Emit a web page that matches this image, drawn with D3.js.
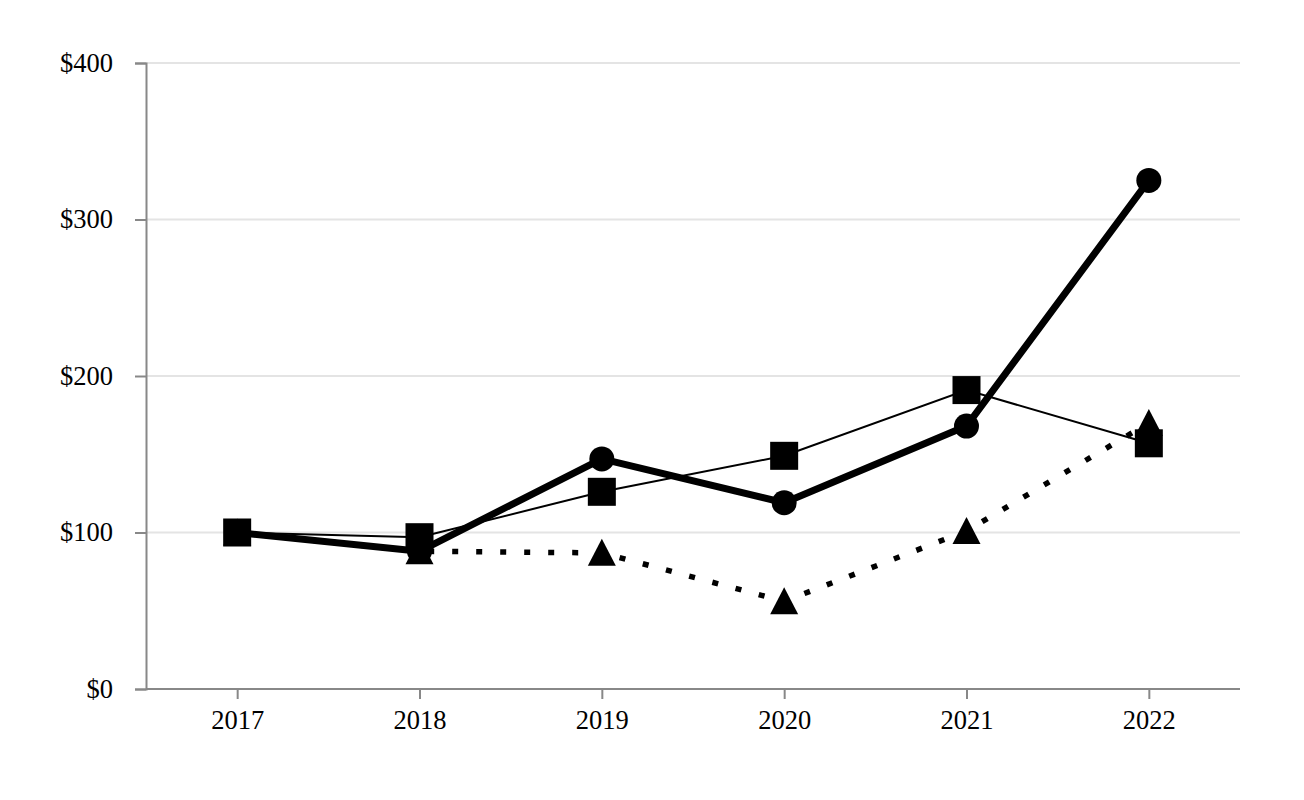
<!DOCTYPE html>
<html>
<head>
<meta charset="utf-8">
<script src="https://cdn.jsdelivr.net/npm/d3@7"></script>
<style>
  html, body { margin: 0; padding: 0; background: #fff; }
  svg text { font-family: "Liberation Serif", "Times New Roman", serif; }
</style>
</head>
<body>
<svg id="chart" width="1304" height="800"></svg>
<script>
const years = ["2017", "2018", "2019", "2020", "2021", "2022"];
const circleSeries = [100, 88, 147, 119, 168, 325];
const squareSeries = [100, 97, 126, 149, 191, 157];
const triangleSeries = [100, 88, 87, 56, 101, 170];
const yTicks = [0, 100, 200, 300, 400];

const svg = d3.select("#chart");
const margin = { left: 146, right: 64, top: 63, bottom: 111 };
const W = 1304, H = 800;

const x = d3.scalePoint().domain(years).range([margin.left, W - margin.right]).padding(0.5);
const y = d3.scaleLinear().domain([0, 400]).range([H - margin.bottom, margin.top]);

// gridlines
svg.append("g").selectAll("line").data(yTicks.filter(d => d > 0)).join("line")
  .attr("x1", margin.left).attr("x2", W - margin.right)
  .attr("y1", d => y(d)).attr("y2", d => y(d))
  .attr("stroke", "#e4e4e4").attr("stroke-width", 2);

// y axis
const yAxis = svg.append("g").attr("transform", `translate(${margin.left},0)`)
  .call(d3.axisLeft(y).tickValues(yTicks).tickSize(11).tickPadding(22).tickFormat(d => "$" + d));
yAxis.select(".domain").attr("stroke", "#888").attr("stroke-width", 2);
yAxis.selectAll(".tick line").attr("stroke", "#888").attr("stroke-width", 2);
yAxis.selectAll("text").attr("font-size", 26.5).attr("fill", "#000")
  .attr("font-family", "Liberation Serif, Times New Roman, serif");

// x axis
const xAxis = svg.append("g").attr("transform", `translate(0,${y(0)})`)
  .call(d3.axisBottom(x).tickSize(10).tickPadding(11).tickSizeOuter(0));
xAxis.select(".domain").attr("stroke", "#888").attr("stroke-width", 2)
  .attr("d", `M${margin.left},0H${W - margin.right}`);
xAxis.selectAll(".tick line").attr("stroke", "#888").attr("stroke-width", 2);
xAxis.selectAll("text").attr("font-size", 26.5).attr("fill", "#000")
  .attr("font-family", "Liberation Serif, Times New Roman, serif");

const line = d3.line().x((d, i) => x(years[i])).y(d => y(d));

// dotted triangle series
svg.append("path").datum(triangleSeries).attr("d", line)
  .attr("fill", "none").attr("stroke", "#000").attr("stroke-width", 5.5)
  .attr("stroke-dasharray", "6,18");
svg.append("g").selectAll("path").data(triangleSeries).join("path")
  .attr("transform", (d, i) => `translate(${x(years[i])},${y(d)})`)
  .attr("d", "M0,-14L14,13L-14,13Z").attr("fill", "#000");

// thin square series
svg.append("path").datum(squareSeries).attr("d", line)
  .attr("fill", "none").attr("stroke", "#000").attr("stroke-width", 2);
svg.append("g").selectAll("rect").data(squareSeries).join("rect")
  .attr("x", (d, i) => x(years[i]) - 14).attr("y", d => y(d) - 14)
  .attr("width", 28).attr("height", 28).attr("fill", "#000");

// thick circle series
svg.append("path").datum(circleSeries).attr("d", line)
  .attr("fill", "none").attr("stroke", "#000").attr("stroke-width", 7)
  .attr("stroke-linejoin", "round");
svg.append("g").selectAll("circle").data(circleSeries).join("circle")
  .attr("cx", (d, i) => x(years[i])).attr("cy", d => y(d))
  .attr("r", 12.5).attr("fill", "#000");
</script>
</body>
</html>
